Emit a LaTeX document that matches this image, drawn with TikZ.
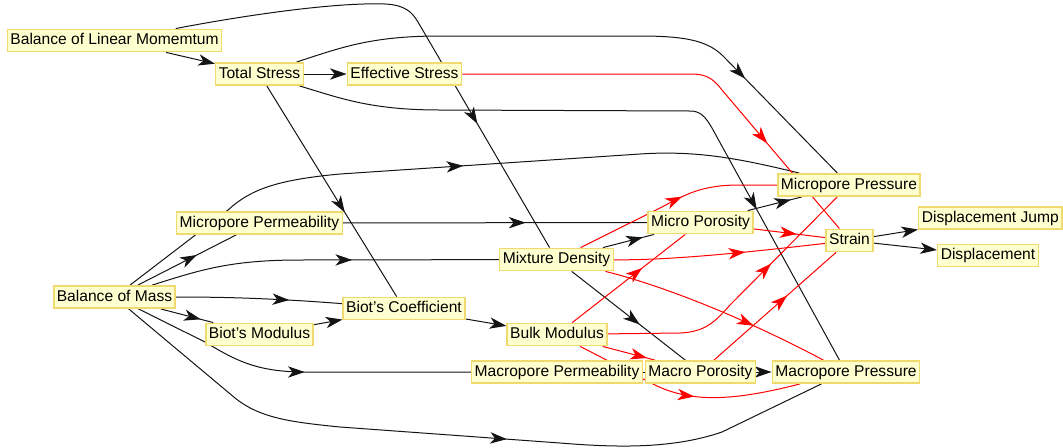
\documentclass[tikz,border=0pt]{standalone}
\usepackage{fontspec}
\setmainfont{Liberation Sans}
\usetikzlibrary{arrows.meta,decorations.markings}
\pgfdeclarelayer{edges}
\pgfsetlayers{edges,main}
\definecolor{boxfill}{RGB}{255,255,208}
\definecolor{boxline}{RGB}{240,218,110}
\definecolor{inkblack}{RGB}{20,20,20}
\tikzset{
  >={Stealth[length=12.5pt,width=8.5pt,inset=3.5pt]},
  box/.style={draw=boxline, fill=boxfill, line width=1.1pt,
    font=\fontsize{11.7pt}{13pt}\selectfont,
    inner xsep=2.3pt, inner ysep=0pt, minimum height=16.8pt,
    text height=8.6pt, text depth=2.5pt},
  conn/.style={line width=0.75pt, color=inkblack},
  rconn/.style={line width=0.75pt, color=red},
  midarrow/.style={postaction={decorate,decoration={markings,
    mark=at position #1 with {\arrow{>}}}}},
}
\begin{document}
\begin{tikzpicture}[x=0.75pt,y=-0.75pt]
\useasboundingbox (0,0) rectangle (1063,447);

% quantities
\node[box] (blm)  at (114.5,40.5) {Balance of Linear Momemtum};
\node[box] (ts)   at (259.5,74)   {Total Stress};
\node[box] (es)   at (404.5,74)   {Effective Stress};
\node[box] (mpp)  at (259.5,223)  {Micropore Permeability};
\node[box] (bom)  at (114.5,297)  {Balance of Mass};
\node[box] (bmod) at (259.5,334.5) {Biot's Modulus};
\node[box] (bc)   at (404,308.5)  {Biot's Coefficient};
\node[box] (md)   at (556.5,259.5) {Mixture Density};
\node[box] (bulk) at (557,334.5)  {Bulk Modulus};
\node[box] (mapp) at (557,372)    {Macropore Permeability};
\node[box] (mip)  at (700.5,222.5) {Micro Porosity};
\node[box] (map)  at (700.5,372)  {Macro Porosity};
\node[box] (mipr) at (849,185)    {Micropore Pressure};
\node[box] (mapr) at (846,372)    {Macropore Pressure};
\node[box] (st)   at (849.5,240.5) {Strain};
\node[box,anchor=west] (dj) at (918,218) {Displacement Jump};
\node[box] (disp) at (988,255.5)  {Displacement};

\begin{pgfonlayer}{edges}
% black dependencies
\draw[conn,->] (blm) -- (ts);
\draw[conn,midarrow=0.72] (blm) .. controls (230,18) and (330,2) .. (385,4)
  .. controls (405,5) and (412,12) .. (418,22) -- (md);
\draw[conn,->] (ts) -- (es);
\draw[conn,midarrow=0.78] (ts) .. controls (340,48) and (370,36) .. (440,36)
  -- (640,36) .. controls (690,36) and (710,42) .. (725,58) -- (mipr);
\draw[conn,midarrow=0.75] (ts) .. controls (340,98) and (370,110) .. (440,110)
  -- (690,111) .. controls (700,111) and (705,116) .. (712,128) -- (mapr);
\draw[conn,midarrow=0.6] (ts) -- (bc);
\draw[conn,midarrow=0.52] (bom) -- (228,210) .. controls (250,190) and (275,180) .. (340,174)
  -- (640,154) .. controls (700,150) and (745,160) .. (mipr);
\draw[conn,midarrow=0.6] (bom) -- (mpp);
\draw[conn,midarrow=0.58] (bom) .. controls (200,270) and (230,260) .. (300,260) -- (md);
\draw[conn,midarrow=0.68] (bom) .. controls (220,297) and (270,298) .. (bc);
\draw[conn,midarrow=0.76] (bom) -- (bmod);
\draw[conn,->] (bmod) -- (bc);
\draw[conn,->] (bc) -- (bulk);
\draw[conn,midarrow=0.78] (md) -- (mip);
\draw[conn,midarrow=0.6] (mpp) -- (mip);
\draw[conn,midarrow=0.6] (md) -- (map);
\draw[conn,->] (map) -- (mapr);
\draw[conn] (mapp) -- (map);
\draw[conn,midarrow=0.52] (bom) -- (205,342) .. controls (235,360) and (255,371) .. (300,372) -- (mapp);
\draw[conn,midarrow=0.56] (bom) -- (235,398) .. controls (260,418) and (290,422) .. (340,427)
  -- (560,443) .. controls (610,447) and (670,450) .. (722,432) -- (mapr);
\draw[conn,midarrow=0.8] (mip) -- (mipr);
\draw[conn,->] (st) -- (dj);
\draw[conn,->] (st) -- (disp);

% red dependencies
\draw[rconn,midarrow=0.75] (es) -- (690,74) .. controls (705,74) and (712,77) .. (722,90) -- (st);
\draw[rconn,midarrow=0.54] (md) -- (660,208) .. controls (685,195) and (700,185) .. (740,185) -- (mipr);
\draw[rconn,midarrow=0.6] (mip) -- (st);
\draw[rconn,midarrow=0.62] (md) .. controls (650,260) and (700,258) .. (st);
\draw[rconn,midarrow=0.67] (md) .. controls (620,275) and (700,295) .. (mapr);
\draw[rconn,midarrow=0.62] (bulk) -- (mip);
\draw[rconn,midarrow=0.67] (bulk) -- (680,333) .. controls (705,332) and (715,322) .. (730,305) -- (mipr);
\draw[rconn,midarrow=0.6] (map) -- (st);
\draw[rconn,midarrow=0.54] (bulk) -- (655,385) .. controls (690,402) and (730,402) .. (mapr);
\draw[rconn,midarrow=0.85] (bulk) -- (map);
\end{pgfonlayer}
\end{tikzpicture}
\end{document}
